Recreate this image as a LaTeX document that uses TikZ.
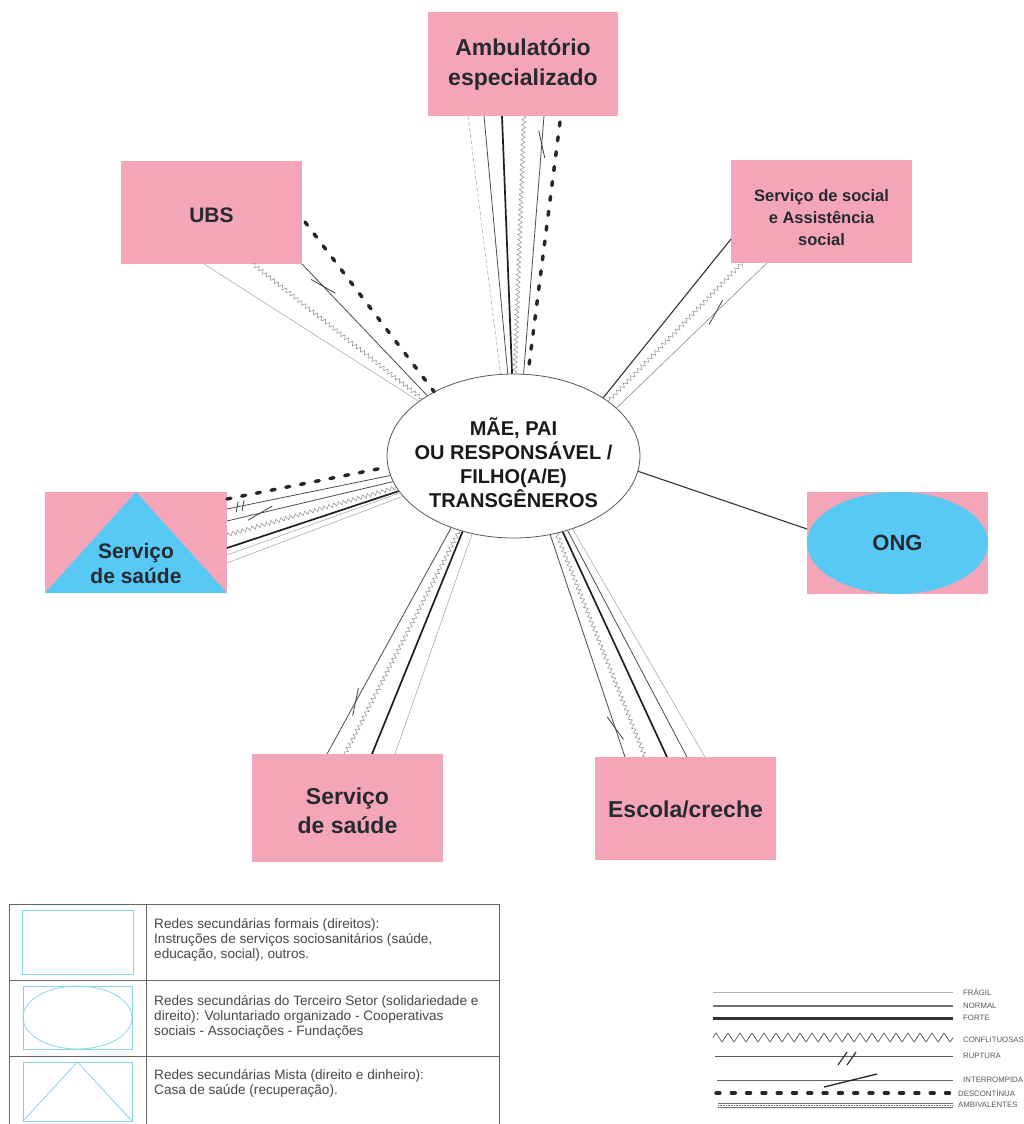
\documentclass[tikz,border=0pt]{standalone}
\usepackage{fontspec}
\setmainfont{Liberation Sans}
\usetikzlibrary{decorations.pathmorphing,decorations.markings,shapes.geometric}

\definecolor{rosa}{HTML}{F4A6B8}
\definecolor{azul}{HTML}{58C8F5}
\definecolor{ciano}{HTML}{86D6EC}
\definecolor{tinta}{HTML}{262A30}

\tikzset{
  caixa/.style={fill=rosa, inner sep=0pt, outer sep=0pt, minimum width=181pt, minimum height=103pt},
  rotulo/.style 2 args={text=tinta, align=center, inner sep=0pt, font=\bfseries\fontsize{#1}{#2}\selectfont},
  fragil/.style={draw=black!32, line width=0.6pt},
  normal/.style={draw=black!70, line width=0.8pt},
  forte/.style={draw=black!88, line width=1.7pt},
  conflito/.style={draw=black!45, line width=0.5pt, decorate,
    decoration={zigzag, segment length=5pt, amplitude=2pt}},
  descont/.style={draw=black!85, line width=3.5pt, line cap=round, dash pattern=on 4pt off 11pt},
  corte/.style={postaction={decorate, decoration={markings, mark=at position #1 with
    {\draw[solid, black!75, line width=0.8pt] (-13.4pt,-4.1pt) -- (13.4pt,4.1pt);}}}},
  ruptura/.style={postaction={decorate, decoration={markings, mark=at position #1 with
    {\draw[solid, black!75, line width=0.8pt] (-5pt,-5pt) -- (-1pt,5pt) (1pt,-5pt) -- (5pt,5pt);}}}},
  leg/.style={anchor=west, inner sep=0pt, font=\fontsize{7.8}{9}\selectfont, text=black!65},
  tabtxt/.style={anchor=north west, inner sep=0pt, align=left, text=black!72,
    font=\fontsize{13.6}{15}\selectfont},
}

\begin{document}
\begin{tikzpicture}[x=1pt,y=-1pt]
\fill[white] (0,0) rectangle (1023,1124);
\useasboundingbox (0,0) rectangle (1023,1124);

% ---- network members ----
\node[caixa, minimum width=190pt, minimum height=104pt] (amb) at (523,64) {};
\node[caixa] (ubs) at (211.5,212.5) {};
\node[caixa] (soc) at (821.5,211.5) {};
\node[caixa, minimum width=182pt, minimum height=101pt] (tri) at (136,542.5) {};
\fill[azul] (tri.south west) -- (tri.north) -- (tri.south east) -- cycle;
\node[caixa, minimum height=102pt] (ong) at (897.5,543) {};
\fill[azul] (ong.center) ellipse [x radius=90.5pt, y radius=51pt];
\node[caixa, minimum width=191pt, minimum height=108pt] (bs) at (347.5,808) {};
\node[caixa] (esc) at (685.5,808.5) {};
\node[ellipse, draw=black!65, line width=0.8pt, fill=white, minimum width=253pt,
      minimum height=164pt, inner sep=0pt] (m) at (513.5,456) {};

% ---- Ambulatório especializado ----
\draw[fragil, dash pattern=on 4pt off 2pt] ([xshift=40pt]amb.south west) -- (m.99.1);
\draw[normal] ([xshift=56pt]amb.south west) -- (m.94.4);
\draw[forte] ([xshift=74pt]amb.south west) -- (m.91.7);
\draw[conflito] ([xshift=96pt]amb.south west) -- (m.89);
\draw[normal, corte=0.11] ([xshift=116pt]amb.south west) -- (m.83.5);
\draw[descont] ([xshift=132pt,yshift=-6pt]amb.south west) -- (m.80.2);

% ---- UBS ----
\draw[descont] ([xshift=3pt,yshift=-9.5pt]ubs.east) -- (m.141);
\draw[normal, corte=0.17] (ubs.south east) -- (m.145.5);
\draw[conflito] ([xshift=-49pt]ubs.south east) -- (m.148);
\draw[fragil] ([xshift=-98pt]ubs.south east) -- (m.150.5);

% ---- Serviço social ----
\draw[normal, draw=black!80, line width=1.1pt] ([yshift=24pt]soc.south west) -- (m.33.8);
\draw[conflito] ([xshift=11pt]soc.south west) -- (m.30.9);
\draw[fragil, draw=black!45, corte=0.34] ([xshift=36pt]soc.south west) -- (m.25.3);

% ---- ONG ----
\draw[normal, draw=black!80, line width=1.1pt] (m.353.3) -- ([yshift=14pt]ong.west);

% ---- Serviço de saúde (misto) ----
\draw[descont] ([yshift=94pt]tri.south east) -- (m.185);
\draw[normal, ruptura=0.08] ([yshift=84pt]tri.south east) -- (m.189.2);
\draw[normal, corte=0.2] ([yshift=72pt]tri.south east) -- (m.192.5);
\draw[conflito] ([yshift=58pt]tri.south east) -- (m.195.1);
\draw[forte] ([yshift=45pt]tri.south east) -- (m.197.2);
\draw[fragil] ([yshift=38pt]tri.south east) -- (m.198.7);
\draw[fragil] ([yshift=30pt]tri.south east) -- (m.200.3);

% ---- Serviço de saúde ----
\draw[normal, corte=0.23] ([xshift=-116pt]bs.north east) -- (m.229.4);
\draw[conflito] ([xshift=-98pt]bs.north east) -- (m.234);
\draw[forte] ([xshift=-71pt]bs.north east) -- (m.236.4);
\draw[fragil] ([xshift=-48pt]bs.north east) -- (m.242.9);

% ---- Escola/creche ----
\draw[normal, corte=0.87] (m.295.4) -- ([xshift=30pt]esc.north west);
\draw[conflito] (m.299.5) -- ([xshift=50pt]esc.north west);
\draw[forte] (m.303.8) -- ([xshift=72pt]esc.north west);
\draw[normal] (m.306.4) -- ([xshift=92pt]esc.north west);
\draw[fragil] (m.309.2) -- ([xshift=110pt]esc.north west);

% ---- labels ----
\node[rotulo={23}{30}] (ambt) at (523,64) {Ambulatório\\especializado};
\node[rotulo={21}{25}] (ubst) at (211.5,215) {UBS};
\node[rotulo={16.5}{22}] (soct) at (821.5,218) {Serviço de social\\e Assistência\\social};
\node[rotulo={21}{25}] (trit) at (136,563.5) {Serviço\\de saúde};
\node[rotulo={22}{26}] (ongt) at (897.5,543) {ONG};
\node[rotulo={23}{29}] (bst) at (347.5,811) {Serviço\\de saúde};
\node[rotulo={23}{28}] (esct) at (685.5,809) {Escola/creche};
\node[rotulo={20}{24}, text=black!90] (mt) at (513.5,463)
  {MÃE, PAI\\OU RESPONSÁVEL /\\FILHO(A/E)\\TRANSGÊNEROS};

% ---- key of network types ----
\draw[black!60, line width=0.8pt] (9,904) rectangle (499,1130);
\draw[black!60, line width=0.8pt] (9,980) -- (499,980) (9,1056) -- (499,1056) (146,904) -- (146,1130);
\draw[ciano, line width=0.8pt] (22,910) rectangle (133,974);
\draw[ciano, line width=0.8pt] (23,986) rectangle (132,1049);
\draw[ciano, line width=0.8pt] (77.5,1017.5) ellipse [x radius=54.5pt, y radius=31.5pt];
\draw[ciano, line width=0.8pt] (23,1062) rectangle (132,1121);
\draw[ciano, line width=0.8pt] (23,1121) -- (77.5,1062) -- (132,1121);
\node[tabtxt] (k1) at (154,918) {Redes secundárias formais (direitos):\\Instruções de serviços sociosanitários (saúde,\\educação, social), outros.};
\node[tabtxt] (k2) at (154,995) {Redes secundárias do Terceiro Setor (solidariedade e\\direito): Voluntariado organizado - Cooperativas\\sociais - Associações - Fundações};
\node[tabtxt] (k3) at (154,1069) {Redes secundárias Mista (direito e dinheiro):\\Casa de saúde (recuperação).};

% ---- key of tie types ----
\draw[black!30, line width=0.8pt] (713,992) -- (953,992);
\node[leg] (l1) at (963,992) {FRÁGIL};
\draw[black!55, line width=1.4pt] (713,1006) -- (953,1006);
\node[leg] (l2) at (963,1006) {NORMAL};
\draw[black!80, line width=3pt] (713,1018) -- (953,1018);
\node[leg] (l3) at (963,1018) {FORTE};
\draw[black!60, line width=0.8pt, decorate, decoration={zigzag, segment length=12pt, amplitude=4.5pt}]
  (713,1037.5) -- (953,1037.5);
\node[leg] (l4) at (963,1040) {CONFLITUOSAS};
\draw[black!65, line width=1pt] (715,1056) -- (953,1056);
\draw[black!80, line width=1.2pt] (838,1065) -- (847,1052) (847,1065) -- (856,1052);
\node[leg] (l5) at (963,1056) {RUPTURA};
\draw[black!60, line width=1pt] (717,1080) -- (953,1080);
\draw[black!85, line width=1.3pt] (824,1087) -- (877,1074);
\node[leg] (l6) at (963,1080) {INTERROMPIDA};
\draw[black!85, line width=3.3pt, line cap=round, dash pattern=on 4pt off 11.3pt] (716,1093) -- (955,1093);
\node[leg] (l7) at (958,1093) {DESCONTÍNUA};
\draw[black!55, line width=0.5pt] (718,1103) -- (953,1103) (718,1107) -- (953,1107);
\draw[black!55, line width=0.7pt, dash pattern=on 0.8pt off 0.8pt] (718,1105) -- (953,1105);
\node[leg] (l8) at (958,1105) {AMBIVALENTES};
\end{tikzpicture}
\end{document}
